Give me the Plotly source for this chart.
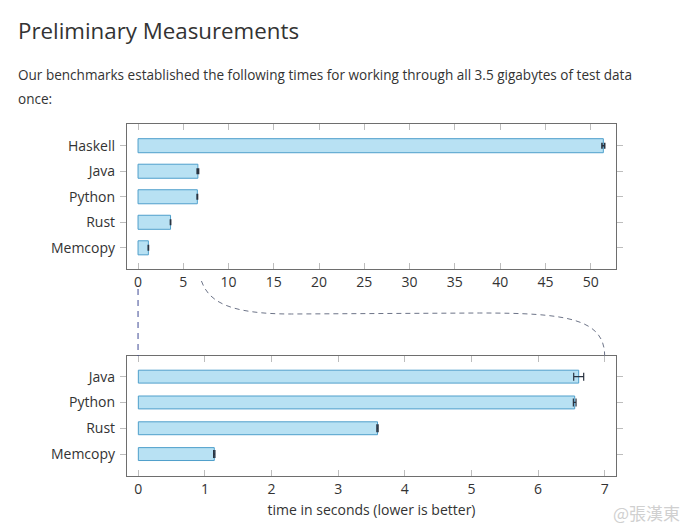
import plotly.graph_objects as go

# ---------------- data ----------------
languages = ["Haskell", "Java", "Python", "Rust", "Memcopy"]
times = [51.4, 6.61, 6.55, 3.59, 1.14]
errors = [0.15, 0.075, 0.02, 0.01, 0.01]

zoom_languages = languages[1:]
zoom_times = times[1:]
zoom_errors = errors[1:]

top_ticks = [0, 5, 10, 15, 20, 25, 30, 35, 40, 45, 50]
bottom_ticks = [0, 1, 2, 3, 4, 5, 6, 7]
zoom_limit = 7

title_text = "Preliminary Measurements"
para_line1 = "Our benchmarks established the following times for working through all 3.5 gigabytes of test data"
para_line2 = "once:"
xaxis_title = "time in seconds (lower is better)"
watermark = "@張漢東"

# ---------------- layout geometry (pixels) ----------------
W, H = 690, 530
PX_L, PX_R = 127, 616
TOP_T, TOP_B = 124, 269
BOT_T, BOT_B = 356, 476
top_range = [-1.22, 52.8]
bot_range = [-0.17, 7.17]


def px(x):
    return x / W


def py(y):
    return 1 - y / H


def data_to_px(v, rng):
    return PX_L + (v - rng[0]) / (rng[1] - rng[0]) * (PX_R - PX_L)


FONT = "Open Sans, Noto Sans, DejaVu Sans, sans-serif"
TXT = "#333333"
FILL = "#b8e1f3"
EDGE = "#4f9fcb"

fig = go.Figure()

fig.add_trace(go.Bar(
    x=times, y=languages, orientation="h",
    marker=dict(color=FILL, line=dict(color=EDGE, width=1)),
    width=0.55,
    error_x=dict(type="data", array=errors, visible=True,
                 color="#2a3340", thickness=1.6, width=3),
    xaxis="x", yaxis="y", showlegend=False, hoverinfo="x+y",
))
fig.add_trace(go.Bar(
    x=zoom_times, y=zoom_languages, orientation="h",
    marker=dict(color=FILL, line=dict(color=EDGE, width=1)),
    width=0.5,
    error_x=dict(type="data", array=zoom_errors, visible=True,
                 color="#2a3340", thickness=1.2, width=4),
    xaxis="x2", yaxis="y2", showlegend=False, hoverinfo="x+y",
))

axis_common = dict(
    showgrid=False, zeroline=False, showline=True, linecolor="#6e6e6e",
    linewidth=1.3, mirror="ticks", tickcolor="#bdbdbd", ticklen=6,
    tickfont=dict(family=FONT, size=14, color=TXT),
)

fig.update_layout(
    width=W, height=H,
    margin=dict(l=0, r=0, t=0, b=0),
    paper_bgcolor="white", plot_bgcolor="white",
    bargap=0.45,
    xaxis=dict(domain=[px(PX_L), px(PX_R)], anchor="y", range=top_range,
               tickvals=top_ticks, ticks="inside", **axis_common),
    yaxis=dict(domain=[py(TOP_B), py(TOP_T)], anchor="x",
               categoryorder="array", categoryarray=languages,
               range=[4.83, -0.85], ticks="outside", ticklabelstandoff=2,
               **axis_common),
    xaxis2=dict(domain=[px(PX_L), px(PX_R)], anchor="y2", range=bot_range,
                tickvals=bottom_ticks, ticks="inside",
                title=dict(text=xaxis_title, font=dict(family=FONT, size=14, color=TXT),
                           standoff=8),
                **axis_common),
    yaxis2=dict(domain=[py(BOT_B), py(BOT_T)], anchor="x2",
                categoryorder="array", categoryarray=zoom_languages,
                range=[3.85, -0.8], ticks="outside", ticklabelstandoff=2,
                **axis_common),
)

# heading + paragraph
fig.add_annotation(text=title_text, x=px(16), y=py(31), xref="paper", yref="paper",
                   xanchor="left", yanchor="middle", showarrow=False,
                   font=dict(family=FONT, size=22.3, color=TXT))
fig.add_annotation(text=para_line1, x=px(16), y=py(75), xref="paper", yref="paper",
                   xanchor="left", yanchor="middle", showarrow=False,
                   font=dict(family=FONT, size=13.55, color=TXT))
fig.add_annotation(text=para_line2, x=px(16), y=py(99), xref="paper", yref="paper",
                   xanchor="left", yanchor="middle", showarrow=False,
                   font=dict(family=FONT, size=13.55, color=TXT))

# connector: vertical dashed line at 0
x0_top = data_to_px(0, top_range)
fig.add_shape(type="line", xref="paper", yref="paper",
              x0=px(x0_top), x1=px(x0_top), y0=py(289), y1=py(BOT_T),
              line=dict(color="#3f4a94", width=1, dash="6px,5px"))

# connector: curved dashed line from zoom limit on top axis to bottom axis
xs = data_to_px(zoom_limit, top_range)
xe = data_to_px(zoom_limit, bot_range)
ys, ye, ymid = 281, BOT_T, 314


def P(x, y):
    return f"{px(x):.5f},{py(y):.5f}"


path = (f"M {P(xs, ys)} C {P(xs + 7, ys + 19)} {P(xs + 24, ymid)} {P(xs + 90, ymid)} "
        f"L {P(xe - 125, ymid - 1)} C {P(xe - 40, ymid - 1)} {P(xe, ymid + 4)} {P(xe, ye)}")
fig.add_shape(type="path", path=path, xref="paper", yref="paper",
              line=dict(color="#6d7488", width=1, dash="5px,4px"))

# watermark
fig.add_annotation(text=watermark, x=px(682), y=py(512), xref="paper", yref="paper",
                   xanchor="right", yanchor="middle", showarrow=False,
                   font=dict(family="Noto Sans CJK TC, sans-serif", size=17, color="#d0d0d0"))

fig.write_html("out.html", config={"displayModeBar": False},
               post_script="document.body.style.margin='0';")
